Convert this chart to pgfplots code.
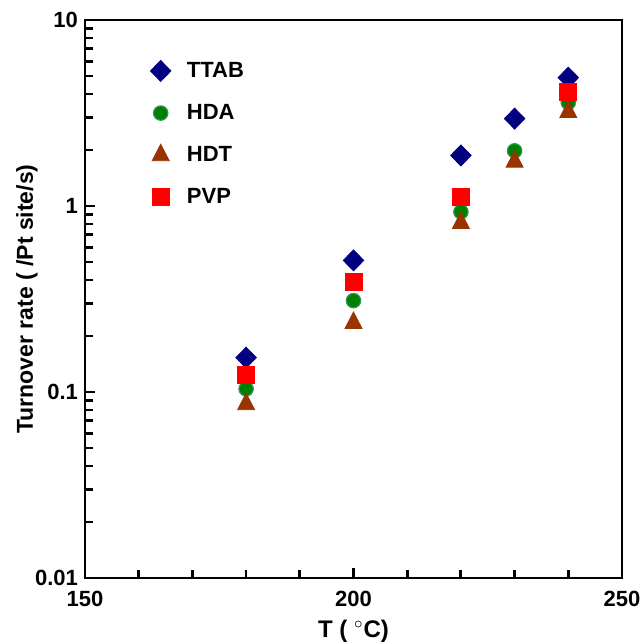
\documentclass[border=0pt]{standalone}
\usepackage{fontspec}
\setmainfont{Liberation Sans}
\usepackage{pgfplots}
\pgfplotsset{compat=1.18}
\definecolor{ttab}{RGB}{0,0,128}
\definecolor{hda}{RGB}{0,128,0}
\definecolor{hdaedge}{RGB}{50,150,90}
\definecolor{hdt}{RGB}{153,51,0}
\definecolor{pvp}{RGB}{255,0,0}
\begin{document}
\begin{tikzpicture}
\begin{axis}[
    name=ax,
    scale only axis,
    width=268.5pt, height=279pt,
    xmin=150, xmax=250,
    ymode=log, ymin=0.01, ymax=10,
    xtick={150,200,250},
    minor xtick={160,170,180,190,210,220,230,240},
    ytick={0.01,0.1,1,10},
    yticklabels={0.01,0.1,1,10},
    minor ytick={0.02,0.03,0.04,0.05,0.06,0.07,0.08,0.09,
                 0.2,0.3,0.4,0.5,0.6,0.7,0.8,0.9,
                 2,3,4,5,6,7,8,9},
    xtick pos=bottom, ytick pos=left,
    tick align=inside,
    major tick length=5pt, minor tick length=4pt,
    every tick/.style={black, line width=1.4pt},
    axis line style={line width=1pt},
    /pgf/number format/assume math mode=true,
    tick label style={font=\fontsize{11}{13}\selectfont\bfseries},
    xticklabel style={yshift=-3pt},
    xlabel={T ( $^\circ$C)},
    ylabel={Turnover rate ( /Pt site/s)},
    xlabel style={font=\fontsize{12}{14}\selectfont\bfseries, at={(axis description cs:0.5,-0.095)}, anchor=center},
    ylabel style={font=\fontsize{11.5}{13}\selectfont\bfseries, at={(axis description cs:-0.108,0.5)}, anchor=center},
    legend style={draw=none, fill=none, at={(axis description cs:0.11,0.94)},
        anchor=north west, font=\fontsize{11}{13}\selectfont\bfseries,
        row sep=8pt},
    legend cell align=left,
]
\addplot[only marks, mark=diamond*, mark size=5.25pt, mark options={xscale=1.3, draw=ttab, fill=ttab}]
coordinates {(180,0.153) (200,0.51) (220,1.87) (230,2.95) (240,4.9)};
\addlegendentry{\hspace{6pt}TTAB}
\addplot[only marks, mark=*, mark size=3.6pt, mark options={draw=hdaedge, fill=hda, line width=0.6pt}]
coordinates {(180,0.104) (200,0.31) (220,0.93) (230,1.98) (240,3.6)};
\addlegendentry{\hspace{6pt}HDA}
\addplot[only marks, mark=triangle*, mark size=4.9pt, mark options={yscale=1.12, draw=hdt, fill=hdt}]
coordinates {(180,0.086) (200,0.235) (220,0.81) (230,1.73) (240,3.2)};
\addlegendentry{\hspace{6pt}HDT}
\addplot[only marks, mark=square*, mark size=4.25pt, mark options={draw=pvp, fill=pvp}]
coordinates {(180,0.123) (200,0.39) (220,1.12) (240,4.12)};
\addlegendentry{\hspace{6pt}PVP}
\end{axis}
\pgfresetboundingbox
\path ([xshift=-42.5pt,yshift=-33pt]ax.south west) rectangle ([xshift=9pt,yshift=10pt]ax.north east);
\end{tikzpicture}
\end{document}
